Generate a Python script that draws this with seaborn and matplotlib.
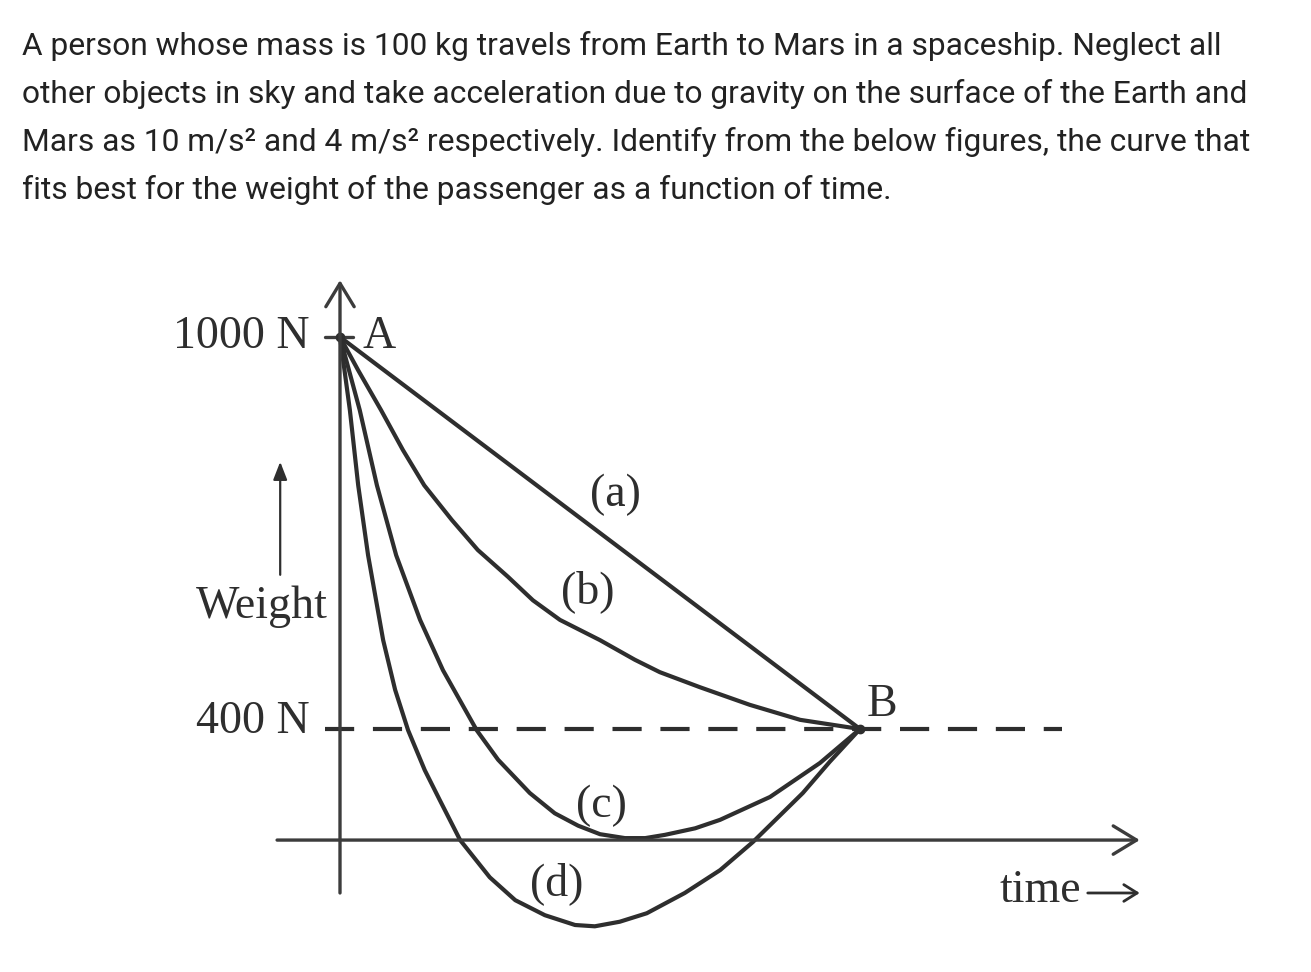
import numpy as np
import pandas as pd
import matplotlib
matplotlib.use("Agg")
import matplotlib.pyplot as plt
import seaborn as sns

# ── data (time in arbitrary units, weight in N) ─────────────────────────────
curve_a_t = [0.0, 10.0]
curve_a_w = [1000, 400]

curve_b_t = [0.0, 0.35, 0.79, 1.21, 1.62, 2.15, 2.65, 3.23, 3.71, 4.23, 5.0,
             5.67, 6.15, 6.92, 7.88, 8.85, 10.0]
curve_b_w = [1000, 949, 888, 827, 773, 720, 674, 633, 597, 567, 536,
             506, 487, 464, 437, 414, 400]

curve_c_t = [0.0, 0.38, 0.71, 1.08, 1.54, 1.98, 2.63, 3.04, 3.65, 4.13, 4.58,
             5.0, 5.48, 5.87, 6.25, 6.83, 7.31, 8.27, 9.23, 10.0]
curve_c_w = [1000, 888, 773, 666, 567, 490, 398, 353, 302, 271, 252,
             239, 233, 233, 238, 248, 261, 296, 348, 400]

curve_d_t = [0.0, 0.19, 0.35, 0.54, 0.83, 1.06, 1.31, 1.63, 1.92, 2.31, 2.88,
             3.37, 3.94, 4.52, 4.90, 5.38, 5.90, 6.63, 7.31, 7.94, 8.90, 9.42, 10.0]
curve_d_w = [1000, 888, 773, 666, 536, 460, 398, 337, 291, 230, 173,
             138, 115, 100, 98, 105, 118, 149, 184, 227, 302, 350, 400]

curve_names = ["(a)", "(b)", "(c)", "(d)"]
label_t = [5.29, 4.77, 5.02, 4.17]
label_w = [758, 610, 282, 164]

w_earth = 1000
w_mars = 400
t_arrival = 10.0
time_axis_w = 230

question = [
    "A person whose mass is 100 kg travels from Earth to Mars in a spaceship. Neglect all",
    "other objects in sky and take acceleration due to gravity on the surface of the Earth and",
    "Mars as 10 m/s\u00b2 and 4 m/s\u00b2 respectively. Identify from the below figures, the curve that",
    "fits best for the weight of the passenger as a function of time.",
]

# ── styling ─────────────────────────────────────────────────────────────────
sns.set_theme(style="white")
plt.rcParams["font.family"] = ["Liberation Serif", "DejaVu Serif"]

INK = "#2e2e2e"
AXIS_INK = "#3c3c3c"
W_FIG, H_FIG = 1311, 972

fig = plt.figure(figsize=(W_FIG / 100, H_FIG / 100), dpi=100)
fig.patch.set_facecolor("white")

# question text
for i, line in enumerate(question):
    fig.text(22 / W_FIG, 1 - (55 + 48 * i) / H_FIG, line, fontsize=22.9,
             family=["Roboto", "DejaVu Sans"], color="#222222", va="baseline", ha="left")

# diagram axes, placed in pixel box then scaled so 52 px = 1 time unit, 392 px = 600 N
box_l, box_r, box_t, box_b = 150, 1200, 250, 960
ax = fig.add_axes([box_l / W_FIG, 1 - box_b / H_FIG,
                   (box_r - box_l) / W_FIG, (box_b - box_t) / H_FIG])
px_t = 1 / 52
px_w = 600 / 392
ax.set_xlim((box_l - 340) * px_t, (box_r - 340) * px_t)
ax.set_ylim(w_earth - (box_b - 337) * px_w, w_earth + (337 - box_t) * px_w)
ax.axis("off")

df = pd.concat([
    pd.DataFrame({"time": t, "weight": w, "curve": name})
    for name, t, w in zip(curve_names,
                          [curve_a_t, curve_b_t, curve_c_t, curve_d_t],
                          [curve_a_w, curve_b_w, curve_c_w, curve_d_w])
])
sns.lineplot(data=df, x="time", y="weight", units="curve", estimator=None,
             sort=False, color=INK, linewidth=3.0, ax=ax, legend=False)
for ln in ax.lines:
    ln.set_solid_joinstyle("round")
    ln.set_solid_capstyle("round")

# axes of the sketch
big_head = "->,head_length=1.4,head_width=0.85"
ax.annotate("", xy=(0, 1087), xytext=(0, 149),
            arrowprops=dict(arrowstyle=big_head, color=AXIS_INK, lw=2.4,
                            shrinkA=0, shrinkB=0))
ax.annotate("", xy=(15.38, time_axis_w), xytext=(-1.21, time_axis_w),
            arrowprops=dict(arrowstyle=big_head, color=AXIS_INK, lw=2.4,
                            shrinkA=0, shrinkB=0))
ax.plot([-0.29, 13.88], [w_mars, w_mars], color=INK, lw=3.0,
        dashes=(7, 4.5))
ax.plot([-0.29, 0.25], [w_earth, w_earth], color=AXIS_INK, lw=2.4)
ax.plot([0, t_arrival], [w_earth, w_mars], ls="none", marker="o",
        ms=6, color=INK)

# labels
txt = dict(fontsize=33, color=INK)
ax.text(-0.58, w_earth, "1000 N", ha="right", va="center", **txt)
ax.text(-0.58, 411, "400 N", ha="right", va="center", **txt)
ax.text(0.44, 1000, "A", ha="left", va="center", **txt)
ax.text(10.42, 437, "B", ha="center", va="center", **txt)
ax.text(-0.23, 570, "Weight", ha="right", va="baseline", **txt)
for name, t, w in zip(curve_names, label_t, label_w):
    ax.text(t, w, name, ha="center", va="center", **txt)
ax.text(13.46, 153, "time", ha="center", va="center", **txt)
ax.annotate("", xy=(15.38, 149), xytext=(14.38, 149),
            arrowprops=dict(arrowstyle="->,head_length=0.8,head_width=0.5",
                            color=INK, lw=2.0, shrinkA=0, shrinkB=0))
ax.annotate("", xy=(-1.15, 809), xytext=(-1.15, 636),
            arrowprops=dict(arrowstyle="-|>,head_length=0.9,head_width=0.35",
                            color=INK, lw=1.6, shrinkA=0, shrinkB=0))

fig.savefig("out.png", dpi=100, facecolor="white")
